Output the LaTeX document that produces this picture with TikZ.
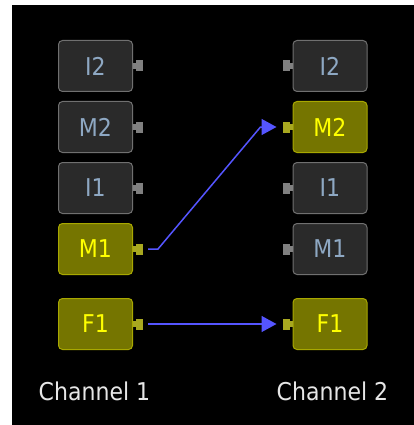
\documentclass[tikz,border=0pt]{standalone}
\usepackage{fontspec}
\setmainfont{DejaVu Sans Condensed}
\usetikzlibrary{arrows.meta,positioning}
\definecolor{idlefill}{HTML}{2A2A2A}
\definecolor{idledraw}{HTML}{707070}
\definecolor{idletext}{HTML}{8EA8C3}
\definecolor{idleport}{HTML}{808080}
\definecolor{livefill}{HTML}{757500}
\definecolor{livedraw}{HTML}{A8A800}
\definecolor{livetext}{HTML}{FFFF00}
\definecolor{liveport}{HTML}{A8A820}
\definecolor{wireblue}{HTML}{5555FF}
\definecolor{labelwhite}{HTML}{E6E6E6}

\begin{document}
\begin{tikzpicture}[
    x=1pt, y=-1pt,
    font=\fontsize{24.5}{28}\selectfont,
    signal/.style={draw=idledraw, fill=idlefill, text=idletext, rounded corners=4pt, line width=1pt, minimum width=74pt, minimum height=51pt, inner sep=0pt},
    idle/.style={},
    live/.style={draw=livedraw, fill=livefill, text=livetext},
    port/.style={minimum width=7pt, minimum height=11pt, inner sep=0pt, outer sep=0pt},
    wire/.style={wireblue, line width=1.5pt, -{Triangle[length=15pt, width=16pt]}},
    chan/.style={text=labelwhite}
]

% -------- panel --------
\fill[white] (0,0) rectangle (414,425);
\fill[black] (12,5) rectangle (414,425);

% -------- channel 1 (outputs on the right) --------
\foreach \name/\yy/\st/\pc in {I2/66/idle/idleport, M2/127/idle/idleport, I1/188/idle/idleport, M1/249/live/liveport, F1/324/live/liveport}{
    \node[signal, \st] (L\name) at (95.5,\yy) {\name};
    \node[port, fill=\pc, right=3pt of L\name] (L\name-out) {};
    \fill[\pc] ([yshift=-3pt]L\name.east) rectangle ([yshift=3pt]L\name-out.west);
}

% -------- channel 2 (inputs on the left) --------
\foreach \name/\yy/\st/\pc in {I2/66/idle/idleport, M2/127/live/liveport, I1/188/idle/idleport, M1/249/idle/idleport, F1/324/live/liveport}{
    \node[signal, \st] (R\name) at (330,\yy) {\name};
    \node[port, fill=\pc, left=3pt of R\name] (R\name-in) {};
    \fill[\pc] ([yshift=-3pt]R\name.west) rectangle ([yshift=3pt]R\name-in.east);
}

% -------- routing --------
\draw[wire] ([xshift=5pt]LM1-out.east) -- ++(10,0) -- ([xshift=-22pt]RM2-in.west) -- ([xshift=-6pt]RM2-in.west);
\draw[wire] ([xshift=5pt]LF1-out.east) -- ([xshift=-6pt]RF1-in.west);

\node[chan] (chan1) at (94.5,391) {Channel 1};
\node[chan] (chan2) at (332.5,391) {Channel 2};

\end{tikzpicture}
\end{document}
